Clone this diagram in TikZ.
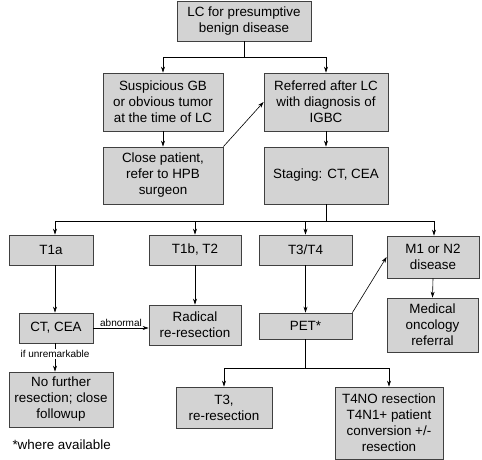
\documentclass[tikz,border=0pt]{standalone}
\usepackage{fontspec}
\setmainfont{Liberation Sans}
\usetikzlibrary{arrows.meta,positioning,calc}
\definecolor{boxgray}{RGB}{211,211,211}

\begin{document}
\begin{tikzpicture}[
    x=1pt, y=-1pt,
    >={Stealth[length=6pt,width=4pt]},
    cbox/.style={
        draw=black!75,
        line width=0.8pt,
        fill=boxgray,
        align=center,
        inner sep=2pt,
        font=\fontsize{13.4}{16}\selectfont
    },
    flow/.style={
        ->,
        line width=0.6pt
    },
    link/.style={
        line width=0.6pt
    },
    tag/.style={
        font=\fontsize{10}{12}\selectfont,
        inner sep=1pt
    }
]
\useasboundingbox (0,0) rectangle (482,460);

%-------------------------------------------------
% Top: referral
%-------------------------------------------------

\node[cbox,minimum width=134pt,minimum height=40pt] (lc) at (244,21)
{LC for presumptive\\benign disease};

\node[cbox,minimum width=120pt,minimum height=58pt] (susp) at (163,102)
{Suspicious GB\\or obvious tumor\\at the time of LC};
\node[cbox,minimum width=124pt,minimum height=58pt] (refd) at (326,102)
{Referred after LC\\with diagnosis of\\IGBC};

\node[cbox,minimum width=120pt,minimum height=57pt] (close) at (163,175.5)
{Close patient,\\refer to HPB\\surgeon};
\node[cbox,minimum width=124pt,minimum height=57pt] (stag) at (326,175.5)
{Staging: CT, CEA};

\coordinate (s1) at (244,57);
\draw[link] (lc.south) -- (s1);
\draw[flow] (s1) -| (susp.north);
\draw[flow] (s1) -| (refd.north);

\draw[flow] (susp.south) -- (close.north);
\draw[flow] (refd.south) -- (stag.north);
\draw[flow] (close.north east) -- (refd.west);

%-------------------------------------------------
% Stages
%-------------------------------------------------

\node[cbox,minimum width=84pt,minimum height=30pt] (t1a) at (51,250) {T1a};
\node[cbox,minimum width=92pt,minimum height=30pt] (t1b) at (195,250) {T1b, T2};
\node[cbox,minimum width=93pt,minimum height=30pt] (t34) at (305.5,250) {T3/T4};
\node[cbox,minimum width=92pt,minimum height=42pt] (m1) at (433,257)
{M1 or N2\\disease};

\coordinate (ca) at (55,221);
\coordinate (cm) at (434,221);
\draw[link] (stag.south) -- (stag.south |- ca);
\draw[link] (ca) -- (cm);
\draw[flow] (ca) -- (ca |- t1a.north);
\draw[flow] (t1b.north |- ca) -- (t1b.north);
\draw[flow] (t34.north |- ca) -- (t34.north);
\draw[flow] (cm) -- (cm |- m1.north);

%-------------------------------------------------
% Work-up and treatment
%-------------------------------------------------

\node[cbox,minimum width=74pt,minimum height=30pt] (ct) at (56,328) {CT, CEA};
\node[cbox,minimum width=92pt,minimum height=40pt] (rad) at (195,325)
{Radical\\re-resection};
\node[cbox,minimum width=93pt,minimum height=26pt] (pet) at (305.5,326) {PET*};
\node[cbox,minimum width=91pt,minimum height=54pt] (med) at (432.5,325)
{Medical\\oncology\\referral};

\draw[flow] (ca |- t1a.south) -- (ca |- ct.north);
\draw[flow] (ct.east) -- node[tag,above] {abnormal} (ct.east -| rad.west);
\draw[flow] (t1b.south) -- (rad.north);
\draw[flow] (t34.south) -- (pet.north);
\draw[flow] (pet.north east) -- (m1.west);
\draw[flow] (m1.south) -- (med.north);

\node[cbox,minimum width=104pt,minimum height=55pt] (nof) at (61,399.5)
{No further\\resection; close\\followup};
\node[cbox,minimum width=96pt,minimum height=41pt] (t3) at (224,407.5)
{T3,\\re-resection};
\node[cbox,minimum width=108pt,minimum height=72pt] (t4) at (389,423)
{T4NO resection\\T4N1+ patient\\conversion +/-\\resection};

\draw[flow] (ca |- ct.south) --
    node[tag,fill=white,pos=0.38] {if unremarkable} (ca |- nof.north);

\coordinate (cp) at (306,368);
\draw[link] (pet.south) -- (pet.south |- cp);
\draw[link] (t3.north |- cp) -- (t4.north |- cp);
\draw[flow] (t3.north |- cp) -- (t3.north);
\draw[flow] (t4.north |- cp) -- (t4.north);

\node[anchor=west,font=\fontsize{13.4}{16}\selectfont] (note) at (9,445)
{*where available};

\end{tikzpicture}
\end{document}
